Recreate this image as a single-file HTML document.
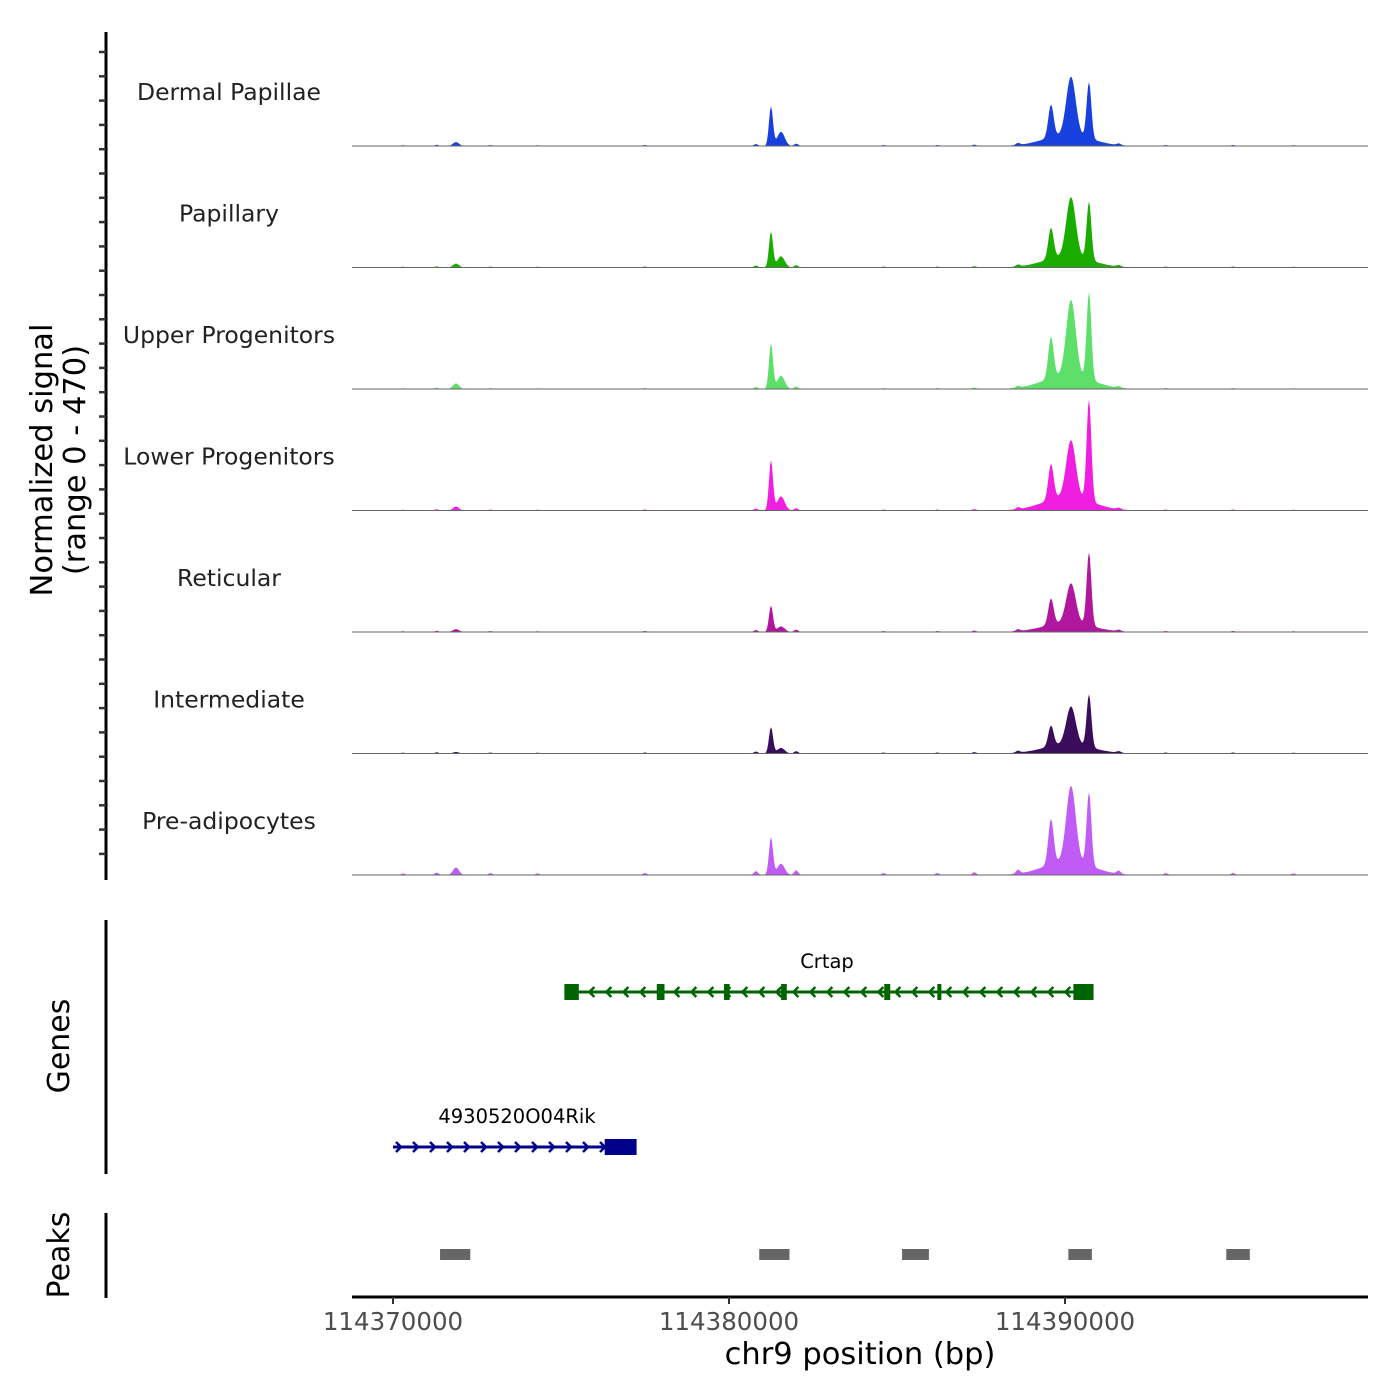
<!DOCTYPE html>
<html><head><meta charset="utf-8"><style>
html,body{margin:0;padding:0;background:#fff;}
svg{display:block;font-family:"DejaVu Sans","Liberation Sans",sans-serif;}
</style></head><body>
<svg id="chart" width="1400" height="1400" viewBox="0 0 1400 1400">
<g id="tracks"></g>
<line x1="106" y1="32" x2="106" y2="880" stroke="#000" stroke-width="3"/>
<g id="yticks"></g>
<g transform="translate(52,460) rotate(-90)">
<text x="0" y="0" text-anchor="middle" font-size="30.5" fill="#000">Normalized signal</text>
<text x="0" y="33" text-anchor="middle" font-size="30.5" fill="#000">(range 0 - 470)</text>
</g>
<g id="genes"></g>
<line x1="106" y1="920" x2="106" y2="1174" stroke="#000" stroke-width="3"/>
<text transform="translate(69,1046) rotate(-90)" text-anchor="middle" font-size="30">Genes</text>
<g id="peaks"></g>
<line x1="106" y1="1213" x2="106" y2="1298" stroke="#000" stroke-width="3"/>
<text transform="translate(69,1255) rotate(-90)" text-anchor="middle" font-size="30">Peaks</text>
<line x1="352" y1="1297" x2="1368" y2="1297" stroke="#000" stroke-width="3"/>
<g id="xticks"></g>
<text x="860" y="1364" text-anchor="middle" font-size="30.5">chr9 position (bp)</text>
</svg>
<script>
const trackNames=["Dermal Papillae","Papillary","Upper Progenitors","Lower Progenitors","Reticular","Intermediate","Pre-adipocytes"];
const trackColors=["#1840dc","#1aad00","#5ddf6a","#f01ee0","#b0169e","#3a0d5c","#c05cf5"];
const peakPos=[114371875,114381250,114381548,114389583,114390179,114390714,114390089];
const peakWidth=[90,60,110,80,140,70,700];
const sigDP=[16,162,58,135,240,232,46];
const sigPap=[16,147,46,128,244,240,46];
const sigUp=[23,186,54,170,310,360,58];
const sigLow=[16,205,58,147,232,418,58];
const sigRet=[12,108,23,108,162,302,39];
const sigInt=[6,108,23,85,155,217,39];
const sigPre=[31,155,46,186,310,302,58];
const trackSignals=[sigDP,sigPap,sigUp,sigLow,sigRet,sigInt,sigPre];
const minorPos=[114370300,114371300,114372900,114374300,114377500,114380800,114382000,114384600,114386200,114387300,114388600,114391600,114393000,114395000,114396800];
const minorSig=[4,6,5,4,5,10,12,5,5,7,10,8,5,5,4];
const xTicks=[114370000,114380000,114390000];
const geneExons1=[[114375100,114375530],[114377850,114378080],[114379850,114380020],[114381550,114381720],[114384620,114384800],[114386200,114386320],[114390250,114390850]];
const peakRegions=[[114371400,114372300],[114380900,114381800],[114385150,114385950],[114390100,114390800],[114394800,114395500]];

const NS="http://www.w3.org/2000/svg";
function xs(bp){return 393+(bp-114370000)*0.0336;}
const trackH=121.5, base0=146, yScale=121.5/470*0.94;
function el(tag,attrs,parent){const e=document.createElementNS(NS,tag);for(const k in attrs)e.setAttribute(k,attrs[k]);parent.appendChild(e);return e;}
const tg=document.getElementById("tracks");
trackNames.forEach((nm,i)=>{
  const b=base0+i*trackH;
  const sig=trackSignals[i];
  let d="M352,"+b;
  for(let px=352;px<=1368;px+=1){
    const bp=114370000+(px-393)/0.0336;
    let v=0;
    for(let k=0;k<peakPos.length;k++){const z=(bp-peakPos[k])/peakWidth[k];v+=sig[k]*Math.exp(-0.5*z*z);}
    for(let k=0;k<minorPos.length;k++){const z=(bp-minorPos[k])/60;v+=minorSig[k]*(i==6?1.6:0.8)*Math.exp(-0.5*z*z);}
    d+=" L"+px+","+(b-v*yScale).toFixed(1);
  }
  d+=" L1368,"+b+" Z";
  const a=el("path",{d:d,fill:trackColors[i]},tg);
  
  
  const ln=el("line",{x1:352,x2:1368,y1:b,y2:b,stroke:"#666","stroke-width":1},tg);
  
  
  const t=el("text",{x:229,y:b-46,"text-anchor":"middle","font-size":"23.5",fill:"#222"},tg);
  t.textContent=nm;
  
  
});
const yt=document.getElementById("yticks");
for(let y=52;y<=878;y+=24.3){
  const l=el("line",{x1:99,x2:106,y1:y,y2:y,stroke:"#333","stroke-width":2.5},yt);
  
  
}
const gg=document.getElementById("genes");
function gene(x1,x2,y,color,dir,exons,label,lx){
  el("line",{x1:x1,x2:x2,y1:y,y2:y,stroke:color,"stroke-width":3},gg);
  const step=17;
  for(let x=x1+8;x<x2-6;x+=step){
    const p=dir<0?`M${x+5},${y-5} L${x},${y} L${x+5},${y+5}`:`M${x-5},${y-5} L${x},${y} L${x-5},${y+5}`;
    el("path",{d:p,stroke:color,"stroke-width":2.5,fill:"none"},gg);
  }
  exons.forEach(e=>{const r=el("rect",{x:xs(e[0]),y:y-8,width:Math.max(4,xs(e[1])-xs(e[0])),height:16,fill:color},gg);
    });
  const t=el("text",{x:lx,y:y-24,"text-anchor":"middle","font-size":"19.5",fill:"#000"},gg);
  t.textContent=label;
  
  
}
gene(xs(114375100),xs(114390850),992,"#006400",-1,geneExons1,"Crtap",827);
gene(393,636,1147,"#00008b",1,[[114376300,114377250]],"4930520O04Rik",517);
const pg=document.getElementById("peaks");
peakRegions.forEach(r=>{const e=el("rect",{x:xs(r[0]),y:1249,width:xs(r[1])-xs(r[0]),height:11,fill:"#666"},pg);
  });
const xt=document.getElementById("xticks");
xTicks.forEach(v=>{
  el("line",{x1:xs(v),x2:xs(v),y1:1297,y2:1304,stroke:"#333","stroke-width":2},xt);
  const t=el("text",{x:xs(v),y:1330,"text-anchor":"middle","font-size":"24.5",fill:"#4d4d4d"},xt);
  t.textContent=String(v);
  
  
});
</script>
</body></html>
